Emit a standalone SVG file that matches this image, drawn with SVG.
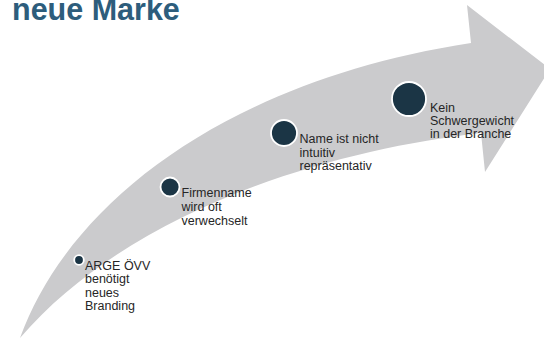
<svg xmlns="http://www.w3.org/2000/svg" width="544" height="340" viewBox="0 0 544 340">
<style>
.title{font-family:"Liberation Sans",Arial,sans-serif;font-weight:bold;font-size:30.5px;fill:#2d5d7c}
.lbl{font-family:"Liberation Sans",Arial,sans-serif;font-size:12.5px;fill:#262626}
.dot{fill:#1b3545;stroke:#ffffff;stroke-width:1.8}
</style>
<rect width="544" height="340" fill="#ffffff"/>
<text class="title" x="12" y="19.5">neue Marke</text>
<g id="arrow">
<path d="M20,338 C70,200 230,80 471,43 L467,5 L550,69 L485,172 L481,133 C330,150 130,210 20,338 Z" fill="#cbcbcd"/>
</g>
<g id="connectors"></g>
<g id="node1">
<circle class="dot" cx="79" cy="260" r="4.8"/>
<text class="lbl" x="85" y="269.5">ARGE ÖVV<tspan x="85" dy="13.6">benötigt</tspan><tspan x="85" dy="13.6">neues</tspan><tspan x="85" dy="13.6">Branding</tspan></text>
</g>
<g id="node2">
<circle class="dot" cx="170" cy="187" r="9.5"/>
<text class="lbl" x="181.5" y="197">Firmenname<tspan x="181.5" dy="13.8">wird oft</tspan><tspan x="181.5" dy="13.8">verwechselt</tspan></text>
</g>
<g id="node3">
<circle class="dot" cx="284" cy="133" r="13"/>
<text class="lbl" x="299.5" y="143">Name ist nicht<tspan x="299.5" dy="13.5">intuitiv</tspan><tspan x="299.5" dy="13.5">repräsentativ</tspan></text>
</g>
<g id="node4">
<circle class="dot" cx="409" cy="99" r="17"/>
<text class="lbl" x="430" y="111.5">Kein<tspan x="430" dy="13.3">Schwergewicht</tspan><tspan x="430" dy="13.3">in der Branche</tspan></text>
</g>
</svg>
